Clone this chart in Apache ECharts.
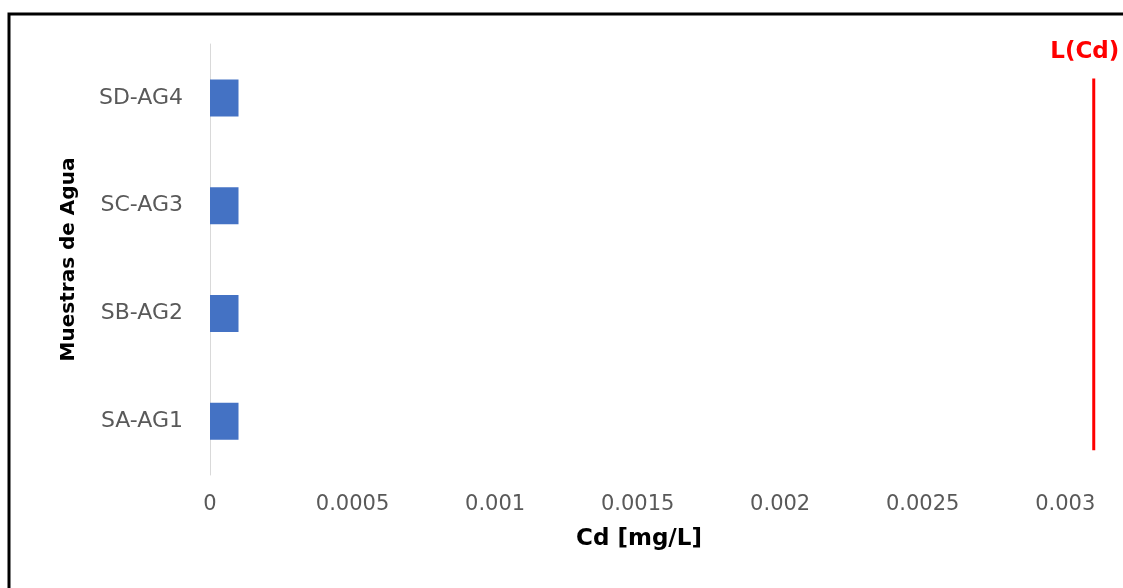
<!DOCTYPE html>
<html>
<head>
<meta charset="utf-8">
<script src="https://cdn.jsdelivr.net/npm/echarts@6/dist/echarts.min.js"></script>
<style>
html,body{margin:0;padding:0;background:#fff;}
#c{width:1123px;height:588px;}
</style>
</head>
<body>
<div id="c"></div>
<script>
// Data
const categories = ['SA-AG1', 'SB-AG2', 'SC-AG3', 'SD-AG4'];
const cdValues = [0.0001, 0.0001, 0.0001, 0.0001];
const limitValue = 0.0031;
const limitLabel = 'L(Cd)';
const xTicks = [0, 0.0005, 0.001, 0.0015, 0.002, 0.0025, 0.003];

const chart = echarts.init(document.getElementById('c'), null, {renderer: 'canvas'});
const font = 'DejaVu Sans';
chart.setOption({
  animation: false,
  backgroundColor: '#fff',
  grid: {left: 210, right: 15, top: 44, bottom: 113, containLabel: false},
  xAxis: {
    type: 'value',
    min: 0,
    max: 0.00315,
    interval: 0.0005,
    axisLine: {show: false},
    axisTick: {show: false},
    splitLine: {show: false},
    axisLabel: {
      showMaxLabel: false,
      color: '#595959',
      fontFamily: font,
      fontSize: 21,
      margin: 19,
      formatter: v => {
        const t = xTicks.find(x => Math.abs(x - v) < 1e-9);
        return t === undefined ? '' : String(t);
      }
    },
    name: 'Cd [mg/L]',
    nameLocation: 'middle',
    nameGap: 53,
    nameTextStyle: {fontFamily: font, fontWeight: 'bold', fontSize: 23, color: '#000', padding: [0, 40, 0, 0]}
  },
  yAxis: [{
    type: 'category',
    data: categories,
    axisLine: {show: true, lineStyle: {color: '#d9d9d9', width: 1}},
    axisTick: {show: false},
    axisLabel: {color: '#595959', fontFamily: font, fontSize: 22, margin: 27},
    name: 'Muestras de Agua',
    nameLocation: 'middle',
    nameGap: 131,
    nameTextStyle: {fontFamily: font, fontWeight: 'bold', fontSize: 20, color: '#000'}
  }, {
    type: 'value',
    show: false,
    min: 0,
    max: 4
  }],
  series: [{
    type: 'bar',
    data: cdValues,
    barWidth: 37,
    itemStyle: {color: '#4472C4'}
  }, {
    type: 'line',
    yAxisIndex: 1,
    symbol: 'circle',
    symbolSize: 0,
    showSymbol: true,
    clip: false,
    lineStyle: {color: '#ff0000', width: 3},
    itemStyle: {color: '#ff0000'},
    label: {show: false},
    data: [
      [limitValue, 0.23],
      {value: [limitValue, 3.68], label: {show: true, position: 'top', distance: 15, offset: [-9, 0], formatter: limitLabel, color: '#ff0000', fontFamily: font, fontWeight: 'bold', fontSize: 23}}
    ]
  }],
  graphic: [{
    type: 'rect',
    shape: {x: 9, y: 14, width: 1300, height: 800},
    style: {fill: 'none', stroke: '#000', lineWidth: 3},
    silent: true
  }]
});
</script>
</body>
</html>
